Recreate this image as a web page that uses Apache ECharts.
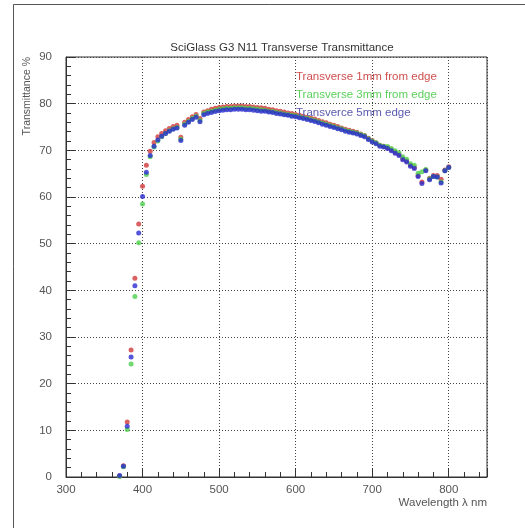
<!DOCTYPE html>
<html>
<head>
<meta charset="utf-8">
<script src="https://cdn.jsdelivr.net/npm/echarts@6/dist/echarts.min.js"></script>
<style>
html,body{margin:0;padding:0;background:#fff;}
#c{width:525px;height:528px;}
</style>
</head>
<body>
<div id="c"></div>
<script>
const wavelengths = [370,375,380,385,390,395,400,405,410,415,420,425,430,435,440,445,450,455,460,465,470,475,480,485,490,495,500,505,510,515,520,525,530,535,540,545,550,555,560,565,570,575,580,585,590,595,600,605,610,615,620,625,630,635,640,645,650,655,660,665,670,675,680,685,690,695,700,705,710,715,720,725,730,735,740,745,750,755,760,765,770,775,780,785,790,795,800];

const trans1mm = [0.2,2.4,11.8,27.2,42.6,54.2,62.3,66.8,69.8,71.7,72.9,73.6,74.2,74.7,75.1,75.4,72.8,76.0,76.6,77.2,77.7,76.8,78.2,78.5,78.8,79.0,79.2,79.3,79.4,79.4,79.5,79.5,79.5,79.4,79.4,79.3,79.2,79.1,79.0,78.8,78.7,78.5,78.4,78.2,78.0,77.9,77.7,77.5,77.3,77.1,76.9,76.7,76.4,76.1,75.9,75.6,75.4,75.1,74.8,74.5,74.3,74.1,73.9,73.5,73.2,72.6,72.1,71.6,71.1,70.9,70.6,70.1,69.6,69.1,68.2,67.7,66.8,66.3,64.6,63.2,65.8,64.0,64.6,64.6,63.8,65.8,66.5];

const trans3mm = [0.1,2.2,10.2,24.2,38.7,50.2,58.5,64.8,68.6,70.7,72.0,72.9,73.6,74.2,74.6,74.9,72.4,75.6,76.2,76.8,77.3,76.4,77.9,78.2,78.4,78.6,78.8,78.9,79.0,79.0,79.1,79.1,79.1,79.0,79.0,78.9,78.8,78.7,78.6,78.4,78.3,78.1,78.0,77.8,77.7,77.5,77.4,77.2,77.0,76.8,76.6,76.4,76.1,75.8,75.6,75.3,75.1,74.8,74.6,74.3,74.1,73.9,73.7,73.4,73.1,72.5,72.0,71.6,71.1,70.9,70.8,70.4,69.9,69.5,68.6,68.1,67.1,66.8,65.1,65.4,65.9,63.9,64.4,64.3,63.2,65.6,66.3];

const trans5mm = [0.3,2.3,10.9,25.7,41.0,52.3,60.1,65.3,68.9,70.9,72.2,73.0,73.6,74.1,74.5,74.8,72.1,75.4,76.0,76.6,77.1,76.1,77.6,77.9,78.1,78.3,78.5,78.6,78.7,78.7,78.8,78.8,78.8,78.7,78.7,78.6,78.5,78.4,78.4,78.2,78.1,77.9,77.8,77.6,77.5,77.3,77.2,77.0,76.8,76.6,76.4,76.2,75.9,75.6,75.4,75.1,74.9,74.6,74.4,74.1,73.9,73.7,73.5,73.2,72.9,72.3,71.8,71.4,70.9,70.7,70.4,69.9,69.4,68.9,68.0,67.5,66.6,66.1,64.4,62.9,65.6,63.7,64.4,64.3,63.0,65.6,66.3];

const seriesNames = ['Transverse 1mm from edge','Transverse 3mm from edge','Transverce 5mm edge'];
const seriesColors = ['#d03a3a','#4ccf4c','#2a2ad0'];
const legendColors = ['#d05050','#5cd05c','#5a5ab0'];
const titleText = 'SciGlass G3 N11 Transverse Transmittance';
const xName = 'Wavelength \u03bb nm';
const yName = 'Transmittance %';

const FONT = 'Liberation Sans';
function pairs(vals){ return wavelengths.map((w,i)=>[w, vals[i]]); }
const allVals = [trans1mm, trans3mm, trans5mm];

const chart = echarts.init(document.getElementById('c'), null, {renderer:'canvas'});
chart.setOption({
  backgroundColor:'#fff',
  animation:false,
  title:{text:titleText, left:277, top:37, textAlign:'center',
    textStyle:{fontFamily:FONT, fontSize:11.5, fontWeight:'normal', color:'#333'}},
  legend:{orient:'vertical', left:286, top:66, icon:'none', itemWidth:0, itemHeight:12, itemGap:6,
    selectedMode:false,
    data: seriesNames.map((n,i)=>({name:n, textStyle:{color:legendColors[i]}})),
    textStyle:{fontFamily:FONT, fontSize:11.5}},
  grid:{left:66, top:57, right:38, bottom:51, show:true, borderColor:'#333', borderWidth:1, backgroundColor:'transparent'},
  xAxis:{type:'value', min:300, max:850, interval:100,
    axisLine:{lineStyle:{color:'#333'}},
    axisTick:{inside:true, length:9, lineStyle:{color:'#333'}},
    minorTick:{show:true, splitNumber:5, length:5, lineStyle:{color:'#333'}},
    axisLabel:{fontFamily:FONT, fontSize:11.5, color:'#555', margin:7, showMaxLabel:false,
      formatter:(v)=> (v % 100 === 0 ? String(v) : '')},
    splitLine:{show:true, lineStyle:{color:'#444', type:[1,2], width:1}}},
  yAxis:{type:'value', min:0, max:90, interval:10,
    axisLine:{show:true, lineStyle:{color:'#333'}},
    axisTick:{show:true, inside:true, length:9, lineStyle:{color:'#333'}},
    minorTick:{show:true, splitNumber:5, length:5, lineStyle:{color:'#333'}},
    axisLabel:{fontFamily:FONT, fontSize:11.5, color:'#555', margin:14},
    splitLine:{show:true, lineStyle:{color:'#444', type:[1,2], width:1}}},
  graphic:[
    {type:'rect', shape:{x:13.5, y:4.5, width:540, height:540}, style:{fill:'none', stroke:'#555', lineWidth:1}, silent:true, z:-1},
    {type:'text', x:27, y:57, rotation:Math.PI/2,
      style:{text:yName, fontFamily:FONT, fontSize:10.5, fill:'#555', align:'right', verticalAlign:'middle'}},
    {type:'text', x:487, y:503,
      style:{text:xName, fontFamily:FONT, fontSize:11.5, fill:'#555', align:'right', verticalAlign:'middle'}}
  ],
  series: seriesNames.map((n,i)=>({
    name:n, type:'scatter', symbol:'circle', symbolSize:5,
    itemStyle:{color:seriesColors[i]},
    data: pairs(allVals[i])
  }))
});
</script>
</body>
</html>
